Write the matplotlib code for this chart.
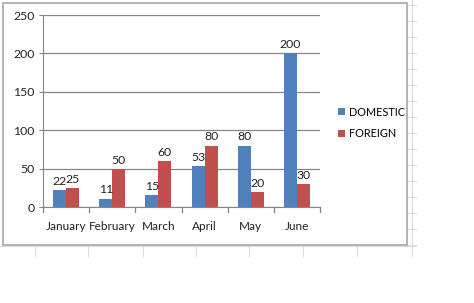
import matplotlib.pyplot as plt
import matplotlib.lines as mlines
import matplotlib.patches as mpatches
import numpy as np

months = ["January", "February", "March", "April", "May", "June"]
domestic = [22, 11, 15, 53, 80, 200]
foreign = [25, 50, 60, 80, 20, 30]

plt.rcParams['font.family'] = ['Lato', 'DejaVu Sans']

W, H = 474, 303
fig = plt.figure(figsize=(W / 100, H / 100), dpi=100)


def px_line(x0, x1, y0, y1):
    # faint spreadsheet cell line, in pixel coords from the top left
    fig.add_artist(mlines.Line2D([x0 / W, x1 / W], [1 - y0 / H, 1 - y1 / H],
                                 color="#dcdcdc", lw=0.8, zorder=-3))


# bits of the spreadsheet grid that show round the chart
px_line(412, 412, 0, 256)
for y in np.arange(5, 247, 16):
    px_line(407, 416, y, y)
px_line(0, 416, 246, 246)
for x in [35, 88, 143, 196, 249, 303, 357]:
    px_line(x, x, 245, 256)

# chart frame
fig.add_artist(mpatches.Rectangle((3 / W, 1 - 245 / H), 404 / W, 242 / H, facecolor="white",
                                  edgecolor="#a6a6a6", lw=1.2, zorder=-2))

ax = fig.add_axes([43 / W, 1 - 207 / H, 277 / W, 192 / H])
ax.patch.set_alpha(0)
x = np.arange(len(months))
width = 0.28
b1 = ax.bar(x - width / 2, domestic, width, color="#4f81bd", label="DOMESTIC")
b2 = ax.bar(x + width / 2, foreign, width, color="#c0504d", label="FOREIGN")

for bars, vals in [(b1, domestic), (b2, foreign)]:
    for bar, v in zip(bars, vals):
        ax.text(bar.get_x() + bar.get_width() / 2, v + 4, str(v), ha="center", va="bottom",
                fontsize=8.8, color="#222222")

ax.set_xlim(-0.5, len(months) - 0.5)
ax.set_ylim(0, 250)
ax.set_yticks(range(0, 251, 50))
ax.set_xticks(x)
ax.set_xticklabels(months)
ax.yaxis.grid(True, color="#868686", lw=0.9)
ax.set_axisbelow(True)
for s in ["top", "right"]:
    ax.spines[s].set_visible(False)
ax.spines["left"].set_color("#868686")
ax.spines["bottom"].set_color("#868686")
ax.tick_params(axis="y", length=3, color="#868686", labelsize=8.8, labelcolor="#222222", pad=3)
ax.tick_params(axis="x", length=0, labelsize=8.5, labelcolor="#222222", pad=10)
for k in range(len(months) + 1):
    ax.plot([k - 0.5, k - 0.5], [0, -6], color="#868686", lw=0.9, clip_on=False)

fig.legend(handles=[b1, b2], loc="center left", bbox_to_anchor=(334 / W, 1 - 123 / H),
           frameon=False, fontsize=7.8, handlelength=0.6, handleheight=0.6,
           handletextpad=0.4, labelspacing=1.0, borderaxespad=0)

fig.savefig("out.png", dpi=100)
